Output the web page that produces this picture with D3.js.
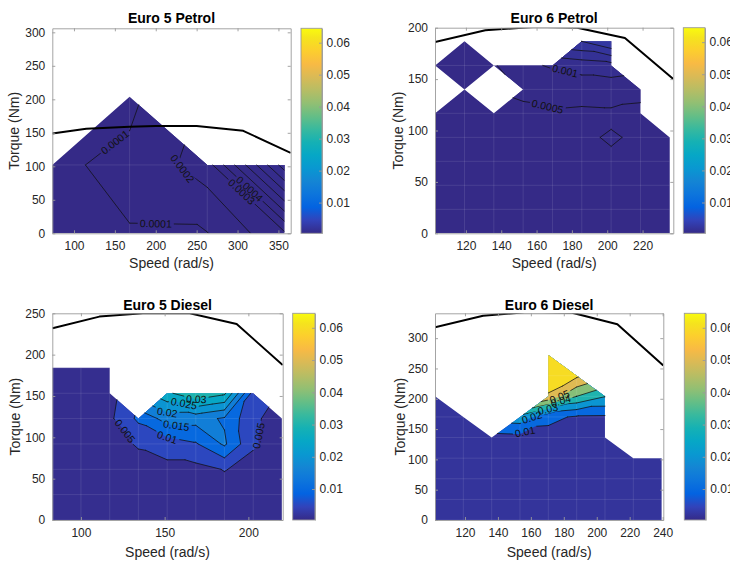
<!DOCTYPE html>
<html>
<head>
<meta charset="utf-8">
<script src="https://cdn.jsdelivr.net/npm/d3@7"></script>
<style>
  body { margin: 0; background: #fff; }
  text { font-family: "Liberation Sans", Arial, Helvetica, sans-serif; }
</style>
</head>
<body>
<svg id="fig" width="730" height="562"></svg>
<script>
// ---------- data (speed rad/s, torque Nm, values on the measurement grid; null = no data) ----------
const e5pSpeed = [73.5, 168, 263, 357];
const e5pTorque = [0, 102, 204];
const e5pValues = [
  [0.00008, 0.0000965, 0.000097, 0.00028],
  [0.000085, 0.00012, 0.00025, 0.00095],
  [null, 0.00008, null, null]
];
const e5pLevels = [0.0001, 0.0002, 0.0003, 0.0004, 0.0005, 0.0006, 0.0007, 0.0008, 0.0009];
const e5pLabels = [[0.0001, 150, 136], [0.0001, 200, 14], [0.0002, 232, 96], [0.0003, 305, 62], [0.0004, 316, 68]];
const e5pCurveSpeed = [73.5, 115, 168, 200, 250, 307, 365];
const e5pCurveTorque = [149, 156, 159, 160, 160, 153, 120];
const e5pXTicks = [100, 150, 200, 250, 300, 350];
const e5pYTicks = [0, 50, 100, 150, 200, 250, 300];

const e6pSpeed = [102.6, 119.2, 135.8, 152.4, 169, 185.6, 202.2, 218.8, 235.4];
const e6pTorque = [0, 23.3, 46.7, 70, 93.3, 116.7, 140, 163.3, 186.7];
const e6pValues = [
  [0.0002, 0.0002, 0.0002, 0.0002, 0.00025, 0.00025, 0.0003, 0.0003, 0.0003],
  [0.0002, 0.0002, 0.00025, 0.00025, 0.0003, 0.0003, 0.00035, 0.0003, 0.0003],
  [0.00025, 0.00025, 0.0003, 0.0003, 0.0003, 0.00035, 0.0004, 0.00035, 0.0003],
  [0.0003, 0.0003, 0.0003, 0.0003, 0.00035, 0.0004, 0.00045, 0.0004, 0.00035],
  [0.0003, 0.0003, 0.0003, 0.00035, 0.0004, 0.00045, 0.00053, 0.00045, 0.0004],
  [0.0003, 0.0003, 0.00035, 0.00042, 0.00045, 0.00042, 0.00044, 0.00042, null],
  [null, 0.0004, null, 0.00058, 0.0007, 0.0007, 0.0007, 0.0006, null],
  [0.0003, 0.0003, 0.00045, 0.0009, 0.00105, 0.0012, 0.0013, null, null],
  [null, 0.0003, null, null, null, 0.0025, 0.003, null, null]
];
const e6pLevels = [0.0005, 0.001, 0.0015, 0.002, 0.0025];
const e6pLabels = [[0.0005, 165, 118], [0.001, 176, 157]];
const e6pCurveSpeed = [102.5, 131, 160, 183, 210, 237.4];
const e6pCurveTorque = [186, 197.5, 201, 200, 190, 150];
const e6pXTicks = [120, 140, 160, 180, 200, 220];
const e6pYTicks = [0, 50, 100, 150, 200];

const e5dSpeed = [82.9, 100, 117.2, 134.3, 151.5, 168.6, 185.7, 202.9, 220];
const e5dTorque = [0, 30.7, 61.3, 92, 122.7, 153.3, 184];
const e5dValues = [
  [0.001, 0.001, 0.001, 0.001, 0.0012, 0.0012, 0.0012, 0.001, 0.001],
  [0.001, 0.001, 0.0015, 0.002, 0.0025, 0.0025, 0.003, 0.002, 0.0015],
  [0.0015, 0.0015, 0.002, 0.003, 0.0035, 0.0035, 0.0052, 0.0035, 0.002],
  [0.002, 0.002, 0.003, 0.0055, 0.0075, 0.0095, 0.0158, 0.0055, 0.003],
  [0.0015, 0.002, 0.004, 0.011, 0.0171, 0.017, 0.01435, 0.006, 0.0025],
  [0.0012, 0.0015, 0.003, null, 0.029, 0.034, 0.031, 0.008, null],
  [0.001, 0.0012, 0.002, null, null, null, null, null, null]
];
const e5dLevels = [0.005, 0.01, 0.015, 0.02, 0.025, 0.03];
const e5dLabels = [[0.005, 125, 105], [0.005, 203, 103], [0.01, 151, 98], [0.015, 157, 109],
                   [0.02, 151, 118], [0.025, 160, 129], [0.03, 169, 145]];
const e5dCurveSpeed = [83, 111, 137, 165, 193, 220.5];
const e5dCurveTorque = [232, 246, 250, 250, 237, 187.5];
const e5dXTicks = [100, 150, 200];
const e5dYTicks = [0, 50, 100, 150, 200, 250];

const e6dSpeed = [101.8, 119, 136.2, 153.4, 170.6, 187.8, 205, 222.2, 239.4];
const e6dTorque = [0, 34, 68, 102, 136, 170, 204, 238, 272];
const e6dValues = [
  [0.002, 0.002, 0.002, 0.002, 0.002, 0.002, 0.002, 0.002, 0.002],
  [0.002, 0.002, 0.002, 0.0025, 0.003, 0.003, 0.003, 0.002, 0.002],
  [0.002, 0.002, 0.0025, 0.003, 0.0035, 0.0035, 0.0035, 0.003, 0.002],
  [0.002, 0.0025, 0.003, 0.004, 0.0045, 0.0045, 0.004, 0.003, 0.0025],
  [0.002, 0.003, 0.006, 0.007, 0.0065, 0.006, 0.005, null, null],
  [0.002, 0.0025, null, 0.026, 0.0125, 0.0088, 0.0085, null, null],
  [0.002, null, null, null, 0.058, 0.04, 0.0305, null, null],
  [null, null, null, null, 0.07, 0.062, null, null, null],
  [null, null, null, null, 0.072, null, null, null, null]
];
const e6dLevels = [0.01, 0.02, 0.03, 0.04, 0.05, 0.06];
const e6dLabels = [[0.01, 159, 132], [0.02, 162, 162], [0.03, 170, 187], [0.04, 178, 198], [0.05, 177, 208]];
const e6dCurveSpeed = [101.8, 131, 158, 185, 212.5, 240.4];
const e6dCurveTorque = [318, 337, 343, 342, 323, 255];
const e6dXTicks = [120, 140, 160, 180, 200, 220, 240];
const e6dYTicks = [0, 50, 100, 150, 200, 250, 300];

const colorbarTicks = [0.01, 0.02, 0.03, 0.04, 0.05, 0.06];
const colorRange = [0.0004, 0.0645];

// ---------- parula colour map ----------
const parulaHex = ["#352a87", "#3243ba", "#0363e1", "#0d75dc", "#1485d4", "#0998d1", "#06a7c6", "#15b1b4",
  "#38b99e", "#65be86", "#92bf73", "#b7bd64", "#d9ba56", "#f8ba44", "#fcce2e", "#f5e41d", "#f9fb0e"];
const parulaPos = [0, 4, 8, 12, 16, 20, 24, 28, 32, 36, 40, 44, 48, 52, 56, 60, 63].map(i => i / 63);
const color = d3.scaleLinear()
  .domain(parulaPos.map(p => colorRange[0] + p * (colorRange[1] - colorRange[0])))
  .range(parulaHex)
  .interpolate(d3.interpolateRgb)
  .clamp(true);

// ---------- layout ----------
const W = 730, H = 562;
const panels = [
  {title: "Euro 5 Petrol", speed: e5pSpeed, torque: e5pTorque, values: e5pValues, levels: e5pLevels, labels: e5pLabels,
   cs: e5pCurveSpeed, ct: e5pCurveTorque, xt: e5pXTicks, yt: e5pYTicks, xLim: [73.5, 365], yLim: [0, 306],
   l: 52.3, r: 290.7, t: 28.3, b: 233.3, cbL: 301, cbR: 322, titleY: 23, xlabY: 268, ylabX: 18.5},
  {title: "Euro 6 Petrol", speed: e6pSpeed, torque: e6pTorque, values: e6pValues, levels: e6pLevels, labels: e6pLabels,
   cs: e6pCurveSpeed, ct: e6pCurveTorque, xt: e6pXTicks, yt: e6pYTicks, xLim: [102.5, 237.4], yLim: [0, 200],
   l: 435, r: 673.3, t: 27.7, b: 233.3, cbL: 683.3, cbR: 705, titleY: 23, xlabY: 268, ylabX: 403},
  {title: "Euro 5 Diesel", speed: e5dSpeed, torque: e5dTorque, values: e5dValues, levels: e5dLevels, labels: e5dLabels,
   cs: e5dCurveSpeed, ct: e5dCurveTorque, xt: e5dXTicks, yt: e5dYTicks, xLim: [82.9, 220.5], yLim: [0, 250],
   l: 52.3, r: 282.7, t: 313.3, b: 520, cbL: 292.7, cbR: 315, titleY: 309.5, xlabY: 556.5, ylabX: 20},
  {title: "Euro 6 Diesel", speed: e6dSpeed, torque: e6dTorque, values: e6dValues, levels: e6dLevels, labels: e6dLabels,
   cs: e6dCurveSpeed, ct: e6dCurveTorque, xt: e6dXTicks, yt: e6dYTicks, xLim: [101.8, 240.4], yLim: [0, 341],
   l: 435, r: 663.3, t: 313.3, b: 520, cbL: 684.3, cbR: 705.7, titleY: 309.5, xlabY: 556.5, ylabX: 405}
];

const svg = d3.select("#fig");
const defs = svg.append("defs");
const boxColor = "#9a9a9a";
const textColor = "#262626";

// colorbar gradient
const grad = defs.append("linearGradient").attr("id", "parula")
  .attr("x1", 0).attr("y1", 1).attr("x2", 0).attr("y2", 0);
parulaHex.forEach((c, i) => grad.append("stop").attr("offset", parulaPos[i]).attr("stop-color", c));

// split the grid into triangles; cells with one missing corner keep the other three
function cellTriangles(speed, torque, values) {
  const tris = [];
  const pt = (i, j) => values[j][i] == null ? null : {x: speed[i], y: torque[j], v: values[j][i]};
  for (let j = 0; j < torque.length - 1; j++) {
    for (let i = 0; i < speed.length - 1; i++) {
      const bl = pt(i, j), br = pt(i + 1, j), tl = pt(i, j + 1), tr = pt(i + 1, j + 1);
      const ok = [bl, br, tr, tl].filter(p => p);
      if (ok.length === 3) tris.push(ok);
      else if (ok.length === 4) {
        if (Math.abs(bl.v - tr.v) <= Math.abs(tl.v - br.v)) tris.push([bl, br, tr], [bl, tr, tl]);
        else tris.push([bl, br, tl], [br, tr, tl]);
      }
    }
  }
  return tris;
}

function clipAbove(tri, t) {
  const out = [];
  tri.forEach((a, k) => {
    const b = tri[(k + 1) % tri.length];
    if (a.v >= t) out.push(a);
    if ((a.v >= t) !== (b.v >= t)) {
      const f = (t - a.v) / (b.v - a.v);
      out.push({x: a.x + f * (b.x - a.x), y: a.y + f * (b.y - a.y), v: t});
    }
  });
  return out;
}

function crossing(tri, t) {
  const pts = [];
  tri.forEach((a, k) => {
    const b = tri[(k + 1) % 3];
    if ((a.v >= t) !== (b.v >= t)) {
      const f = (t - a.v) / (b.v - a.v);
      pts.push({x: a.x + f * (b.x - a.x), y: a.y + f * (b.y - a.y)});
    }
  });
  return pts.length === 2 ? pts : null;
}

function styleAxis(sel, size) {
  sel.attr("font-family", null).attr("font-size", null);
  sel.select(".domain").attr("stroke", boxColor).attr("stroke-width", 0.9);
  sel.selectAll(".tick line").attr("stroke", boxColor).attr("stroke-width", 0.9);
  sel.selectAll(".tick text").attr("fill", textColor).style("font-size", size + "px");
}

panels.forEach((P, idx) => {
  const x = d3.scaleLinear().domain(P.xLim).range([P.l, P.r]);
  const y = d3.scaleLinear().domain(P.yLim).range([P.b, P.t]);

  defs.append("clipPath").attr("id", "clip" + idx).append("rect")
    .attr("x", P.l).attr("y", P.t).attr("width", P.r - P.l).attr("height", P.b - P.t);

  const g = svg.append("g");
  const plot = g.append("g").attr("clip-path", `url(#clip${idx})`);

  const tris = cellTriangles(P.speed, P.torque, P.values);
  const poly = pts => "M" + pts.map(p => x(p.x).toFixed(2) + "," + y(p.y).toFixed(2)).join("L") + "Z";
  const lowest = d3.min(P.values.flat().filter(v => v != null));

  // filled bands
  const basePath = tris.map(poly).join("");
  plot.append("path").attr("d", basePath).attr("fill", color(lowest));
  P.levels.forEach(t => {
    const d = tris.map(tr => clipAbove(tr, t)).filter(p => p.length >= 3).map(poly).join("");
    if (d) plot.append("path").attr("d", d).attr("fill", color(t));
  });

  // faint patch seams along the grid
  defs.append("clipPath").attr("id", "seam" + idx).append("path").attr("d", basePath);
  const seams = plot.append("g").attr("clip-path", `url(#seam${idx})`)
    .attr("stroke", "#fff").attr("stroke-opacity", 0.13).attr("stroke-width", 0.8);
  P.speed.forEach(s => seams.append("line").attr("x1", x(s)).attr("x2", x(s))
    .attr("y1", y(P.torque[0])).attr("y2", y(P.torque[P.torque.length - 1])));
  P.torque.forEach(q => seams.append("line").attr("y1", y(q)).attr("y2", y(q))
    .attr("x1", x(P.speed[0])).attr("x2", x(P.speed[P.speed.length - 1])));

  // contour lines
  const segs = new Map();
  P.levels.forEach(t => segs.set(t, tris.map(tr => crossing(tr, t)).filter(s => s)
    .map(s => s.map(p => [x(p.x), y(p.y)]))));

  const mask = defs.append("mask").attr("id", "lmask" + idx).attr("maskUnits", "userSpaceOnUse")
    .attr("x", 0).attr("y", 0).attr("width", W).attr("height", H);
  mask.append("rect").attr("width", W).attr("height", H).attr("fill", "#fff");

  const lineG = plot.append("g").attr("mask", `url(#lmask${idx})`);
  P.levels.forEach(t => {
    const d = segs.get(t).map(([a, b]) => `M${a[0].toFixed(2)},${a[1].toFixed(2)}L${b[0].toFixed(2)},${b[1].toFixed(2)}`).join("");
    if (d) lineG.append("path").attr("d", d).attr("fill", "none").attr("stroke", "#111")
      .attr("stroke-width", 0.75).attr("stroke-linecap", "round");
  });

  // inline contour labels
  const labelG = plot.append("g").attr("fill", "#111").style("font-size", "10.5px");
  P.labels.forEach(([lev, sx, sy]) => {
    const px = x(sx), py = y(sy);
    let best = null;
    segs.get(lev).forEach(([a, b]) => {
      const dx = b[0] - a[0], dy = b[1] - a[1], len2 = dx * dx + dy * dy;
      let f = len2 ? ((px - a[0]) * dx + (py - a[1]) * dy) / len2 : 0;
      f = Math.max(0, Math.min(1, f));
      const qx = a[0] + f * dx, qy = a[1] + f * dy;
      const dist = (qx - px) ** 2 + (qy - py) ** 2;
      if (!best || dist < best.dist) best = {dist, qx, qy};
    });
    if (!best) return;
    // orientation of the line around the label point
    const near = [];
    segs.get(lev).forEach(([a, b]) => {
      const mx = (a[0] + b[0]) / 2, my = (a[1] + b[1]) / 2;
      if ((mx - best.qx) ** 2 + (my - best.qy) ** 2 < 18 * 18) near.push(a, b);
    });
    const mx = d3.mean(near, p => p[0]), my = d3.mean(near, p => p[1]);
    let sxx = 0, syy = 0, sxy = 0;
    near.forEach(p => { sxx += (p[0] - mx) ** 2; syy += (p[1] - my) ** 2; sxy += (p[0] - mx) * (p[1] - my); });
    let ang = 0.5 * Math.atan2(2 * sxy, sxx - syy) * 180 / Math.PI;
    if (ang > 90) ang -= 180;
    if (ang < -90) ang += 180;
    const tf = `translate(${best.qx.toFixed(2)},${best.qy.toFixed(2)}) rotate(${ang.toFixed(1)})`;
    const txt = labelG.append("text").attr("transform", tf).attr("text-anchor", "middle")
      .attr("dy", "0.35em").text(String(lev));
    const w = txt.node().getComputedTextLength();
    mask.append("rect").attr("transform", tf).attr("x", -w / 2 - 2).attr("y", -4.5)
      .attr("width", w + 4).attr("height", 9).attr("fill", "#000");
  });

  // full-load torque curve
  const curve = P.cs.map((s, i) => [s, P.ct[i]]);
  plot.append("path").datum(curve)
    .attr("d", d3.line().x(d => x(d[0])).y(d => y(d[1])))
    .attr("fill", "none").attr("stroke", "#000").attr("stroke-width", 2).attr("stroke-linejoin", "round");

  // axes box with inward ticks
  g.append("g").attr("transform", `translate(0,${P.b})`)
    .call(d3.axisBottom(x).tickValues(P.xt).tickSize(-3).tickSizeOuter(0).tickPadding(8.5))
    .call(s => styleAxis(s, 12));
  g.append("g").attr("transform", `translate(0,${P.t})`)
    .call(d3.axisTop(x).tickValues(P.xt).tickSize(-3).tickSizeOuter(0).tickFormat(""))
    .call(s => styleAxis(s, 12));
  g.append("g").attr("transform", `translate(${P.l},0)`)
    .call(d3.axisLeft(y).tickValues(P.yt).tickSize(-3).tickSizeOuter(0).tickPadding(7))
    .call(s => styleAxis(s, 12));
  g.append("g").attr("transform", `translate(${P.r},0)`)
    .call(d3.axisRight(y).tickValues(P.yt).tickSize(-3).tickSizeOuter(0).tickFormat(""))
    .call(s => styleAxis(s, 12));

  // titles and axis labels
  g.append("text").attr("x", (P.l + P.r) / 2).attr("y", P.titleY).attr("text-anchor", "middle")
    .style("font-size", "14px").style("font-weight", "bold").attr("fill", "#000").text(P.title);
  g.append("text").attr("x", (P.l + P.r) / 2).attr("y", P.xlabY).attr("text-anchor", "middle")
    .style("font-size", "14px").attr("fill", textColor).text("Speed (rad/s)");
  g.append("text").attr("transform", `translate(${P.ylabX},${(P.t + P.b) / 2}) rotate(-90)`)
    .attr("text-anchor", "middle").style("font-size", "14px").attr("fill", textColor).text("Torque (Nm)");

  // colorbar
  const cy = d3.scaleLinear().domain(colorRange).range([P.b, P.t]);
  g.append("rect").attr("x", P.cbL).attr("y", P.t).attr("width", P.cbR - P.cbL).attr("height", P.b - P.t)
    .attr("fill", "url(#parula)");
  g.append("rect").attr("x", P.cbL).attr("y", P.t).attr("width", P.cbR - P.cbL).attr("height", P.b - P.t)
    .attr("fill", "none").attr("stroke", boxColor).attr("stroke-width", 0.9);
  g.append("g").attr("transform", `translate(${P.cbR},0)`)
    .call(d3.axisRight(cy).tickValues(colorbarTicks).tickSize(-3).tickSizeOuter(0).tickPadding(4.5)
      .tickFormat(d3.format(".2f")))
    .call(s => styleAxis(s, 12));
});
</script>
</body>
</html>
